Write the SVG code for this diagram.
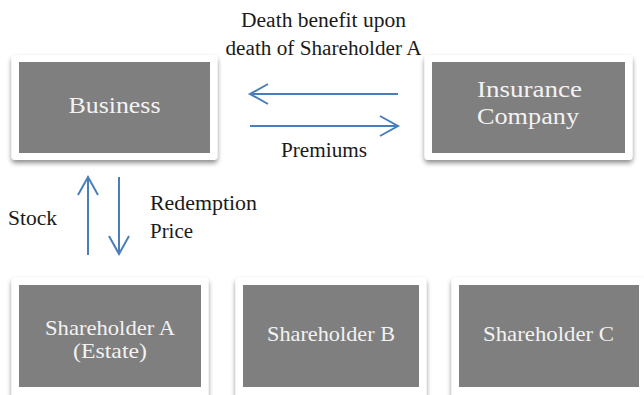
<svg xmlns="http://www.w3.org/2000/svg" width="644" height="395" viewBox="0 0 644 395">
<style>
.frame{fill:#ffffff;filter:url(#sh);}
.box{fill:#7f7f7f;}
.nt{font-family:"Liberation Serif",serif;font-size:24px;fill:#f2f2f2;text-anchor:middle;}
.nt2{font-family:"Liberation Serif",serif;font-size:22px;fill:#f2f2f2;text-anchor:middle;}
.lbl{font-family:"Liberation Serif",serif;font-size:20px;fill:#1a1a1a;}
.arr{stroke:#4a7ebb;stroke-width:2;fill:none;}
</style>
<defs>
<filter id="sh" x="-10%" y="-10%" width="120%" height="130%">
<feGaussianBlur in="SourceAlpha" stdDeviation="2.5"/>
<feOffset dx="0" dy="3" result="b"/>
<feComponentTransfer><feFuncA type="linear" slope="0.45"/></feComponentTransfer>
<feMerge><feMergeNode/><feMergeNode in="SourceGraphic"/></feMerge>
</filter>
</defs>
<rect width="644" height="395" fill="#ffffff"/>
<g id="business">
<rect class="frame" x="11.5" y="55" width="206" height="105" rx="4"/>
<rect class="box" x="19" y="62" width="191" height="91"/>
<text class="nt" x="114.5" y="113" textLength="92" lengthAdjust="spacingAndGlyphs">Business</text>
</g>
<g id="insurance">
<rect class="frame" x="424.5" y="55" width="208" height="105" rx="4"/>
<rect class="box" x="432" y="62" width="193" height="91"/>
<text class="nt" x="529.5" y="97" textLength="105" lengthAdjust="spacingAndGlyphs">Insurance</text>
<text class="nt" x="528" y="124" textLength="102" lengthAdjust="spacingAndGlyphs">Company</text>
</g>
<g id="shareholderA">
<rect class="frame" x="11.5" y="277.5" width="197" height="125" rx="4"/>
<rect class="box" x="19" y="285" width="182" height="102"/>
<text class="nt2" x="110" y="335" textLength="130" lengthAdjust="spacingAndGlyphs">Shareholder A</text>
<text class="nt2" x="110" y="358" textLength="74" lengthAdjust="spacingAndGlyphs">(Estate)</text>
</g>
<g id="shareholderB">
<rect class="frame" x="235.5" y="277.5" width="191" height="125" rx="4"/>
<rect class="box" x="243" y="285" width="176" height="102"/>
<text class="nt2" x="331" y="341" textLength="128" lengthAdjust="spacingAndGlyphs">Shareholder B</text>
</g>
<g id="shareholderC">
<rect class="frame" x="451.5" y="277.5" width="195" height="125" rx="4"/>
<rect class="box" x="459" y="285" width="180" height="102"/>
<text class="nt2" x="548.5" y="341" textLength="131" lengthAdjust="spacingAndGlyphs">Shareholder C</text>
</g>
<g id="connectors">
<path class="arr" d="M398 94 H250 M268 84 L250 94 L268 104"/>
<path class="arr" d="M250 126 H398 M380 116 L398 126 L380 136"/>
<path class="arr" d="M88 255 V177 M78 195 L88 177 L98 195"/>
<path class="arr" d="M119 177 V254 M109 236 L119 254 L129 236"/>
</g>
<g id="labels">
<text class="lbl" x="323.5" y="27" text-anchor="middle" textLength="165" lengthAdjust="spacingAndGlyphs">Death benefit upon</text>
<text class="lbl" x="323.5" y="55" text-anchor="middle" textLength="196" lengthAdjust="spacingAndGlyphs">death of Shareholder A</text>
<text class="lbl" x="324" y="157" text-anchor="middle" textLength="86" lengthAdjust="spacingAndGlyphs">Premiums</text>
<text class="lbl" x="8" y="225" textLength="49" lengthAdjust="spacingAndGlyphs">Stock</text>
<text class="lbl" x="150" y="210" textLength="107" lengthAdjust="spacingAndGlyphs">Redemption</text>
<text class="lbl" x="150" y="238" textLength="43" lengthAdjust="spacingAndGlyphs">Price</text>
</g>
</svg>
